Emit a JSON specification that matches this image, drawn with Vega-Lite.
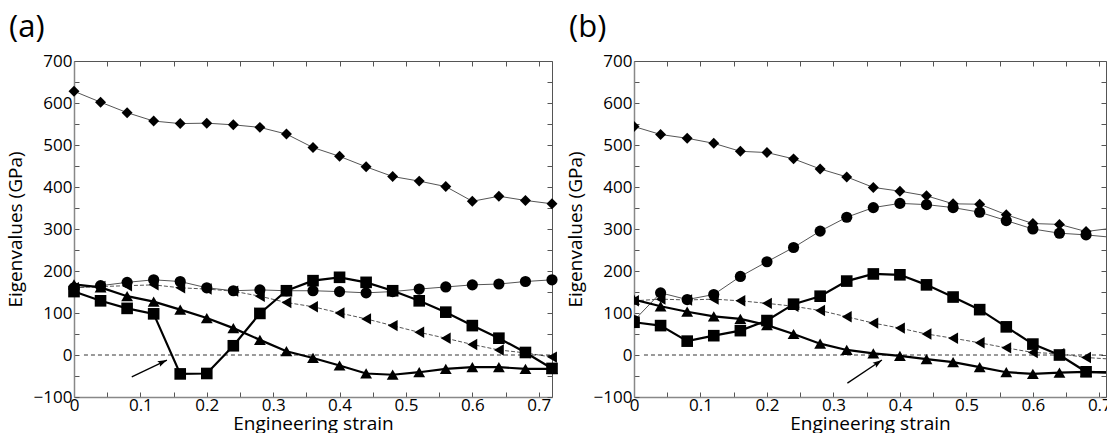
{
  "$schema": "https://vega.github.io/schema/vega-lite/v6.json",
  "background": "white",
  "padding": {"left": 6, "top": 12, "right": 0, "bottom": 0},
  "spacing": 8,
  "config": {
    "font": "Open Sans",
    "view": {"stroke": null},
    "axis": {
      "grid": false,
      "labelFont": "Open Sans",
      "labelFontSize": 17,
      "labelColor": "black",
      "titleFont": "Open Sans",
      "titleFontSize": 19,
      "titleFontWeight": "normal",
      "titleColor": "black",
      "tickColor": "#555",
      "tickSize": -5,
      "domainColor": "#888",
      "domainWidth": 1.5,
      "labelOverlap": false,
      "labelFlush": false
    },
    "title": {"font": "Open Sans", "fontSize": 31, "fontWeight": "normal", "anchor": "start", "frame": "bounds", "color": "black"}
  },
  "datasets": {
    "a": [
      {"x":0,"s":"s1","y":628},{"x":0.04,"s":"s1","y":602},{"x":0.08,"s":"s1","y":577},{"x":0.12,"s":"s1","y":557},{"x":0.16,"s":"s1","y":551},{"x":0.2,"s":"s1","y":552},{"x":0.24,"s":"s1","y":548},{"x":0.28,"s":"s1","y":542},{"x":0.32,"s":"s1","y":526},{"x":0.36,"s":"s1","y":494},{"x":0.4,"s":"s1","y":473},{"x":0.44,"s":"s1","y":448},{"x":0.48,"s":"s1","y":425},{"x":0.52,"s":"s1","y":414},{"x":0.56,"s":"s1","y":401},{"x":0.6,"s":"s1","y":366},{"x":0.64,"s":"s1","y":378},{"x":0.68,"s":"s1","y":368},{"x":0.72,"s":"s1","y":360},
      {"x":0,"s":"s2","y":160},{"x":0.04,"s":"s2","y":165},{"x":0.08,"s":"s2","y":173},{"x":0.12,"s":"s2","y":179},{"x":0.16,"s":"s2","y":175},{"x":0.2,"s":"s2","y":160},{"x":0.24,"s":"s2","y":153},{"x":0.28,"s":"s2","y":155},{"x":0.32,"s":"s2","y":153},{"x":0.36,"s":"s2","y":153},{"x":0.4,"s":"s2","y":151},{"x":0.44,"s":"s2","y":148},{"x":0.48,"s":"s2","y":151},{"x":0.52,"s":"s2","y":157},{"x":0.56,"s":"s2","y":162},{"x":0.6,"s":"s2","y":167},{"x":0.64,"s":"s2","y":169},{"x":0.68,"s":"s2","y":175},{"x":0.72,"s":"s2","y":179},
      {"x":0,"s":"s3","y":160},{"x":0.04,"s":"s3","y":163},{"x":0.08,"s":"s3","y":165},{"x":0.12,"s":"s3","y":167},{"x":0.16,"s":"s3","y":160},{"x":0.2,"s":"s3","y":157},{"x":0.24,"s":"s3","y":152},{"x":0.28,"s":"s3","y":140},{"x":0.32,"s":"s3","y":125},{"x":0.36,"s":"s3","y":115},{"x":0.4,"s":"s3","y":100},{"x":0.44,"s":"s3","y":86},{"x":0.48,"s":"s3","y":70},{"x":0.52,"s":"s3","y":54},{"x":0.56,"s":"s3","y":40},{"x":0.6,"s":"s3","y":25},{"x":0.64,"s":"s3","y":12},{"x":0.68,"s":"s3","y":5},{"x":0.72,"s":"s3","y":-5},
      {"x":0,"s":"s4","y":151},{"x":0.04,"s":"s4","y":129},{"x":0.08,"s":"s4","y":111},{"x":0.12,"s":"s4","y":98},{"x":0.16,"s":"s4","y":-45},{"x":0.2,"s":"s4","y":-44},{"x":0.24,"s":"s4","y":22},{"x":0.28,"s":"s4","y":99},{"x":0.32,"s":"s4","y":153},{"x":0.36,"s":"s4","y":177},{"x":0.4,"s":"s4","y":185},{"x":0.44,"s":"s4","y":173},{"x":0.48,"s":"s4","y":153},{"x":0.52,"s":"s4","y":129},{"x":0.56,"s":"s4","y":102},{"x":0.6,"s":"s4","y":70},{"x":0.64,"s":"s4","y":40},{"x":0.68,"s":"s4","y":6},{"x":0.72,"s":"s4","y":-32},
      {"x":0,"s":"s5","y":168},{"x":0.04,"s":"s5","y":161},{"x":0.08,"s":"s5","y":140},{"x":0.12,"s":"s5","y":127},{"x":0.16,"s":"s5","y":108},{"x":0.2,"s":"s5","y":88},{"x":0.24,"s":"s5","y":64},{"x":0.28,"s":"s5","y":36},{"x":0.32,"s":"s5","y":9},{"x":0.36,"s":"s5","y":-7},{"x":0.4,"s":"s5","y":-25},{"x":0.44,"s":"s5","y":-44},{"x":0.48,"s":"s5","y":-47},{"x":0.52,"s":"s5","y":-41},{"x":0.56,"s":"s5","y":-33},{"x":0.6,"s":"s5","y":-29},{"x":0.64,"s":"s5","y":-29},{"x":0.68,"s":"s5","y":-33},{"x":0.72,"s":"s5","y":-33}
    ],
    "b": [
      {"x":0,"s":"s1","y":544},{"x":0.04,"s":"s1","y":525},{"x":0.08,"s":"s1","y":516},{"x":0.12,"s":"s1","y":504},{"x":0.16,"s":"s1","y":485},{"x":0.2,"s":"s1","y":482},{"x":0.24,"s":"s1","y":467},{"x":0.28,"s":"s1","y":443},{"x":0.32,"s":"s1","y":424},{"x":0.36,"s":"s1","y":399},{"x":0.4,"s":"s1","y":390},{"x":0.44,"s":"s1","y":379},{"x":0.48,"s":"s1","y":360},{"x":0.52,"s":"s1","y":359},{"x":0.56,"s":"s1","y":334},{"x":0.6,"s":"s1","y":313},{"x":0.64,"s":"s1","y":311},{"x":0.68,"s":"s1","y":294},{"x":0.72,"s":"s1","y":302},
      {"x":0,"s":"s2","y":82},{"x":0.04,"s":"s2","y":148},{"x":0.08,"s":"s2","y":132},{"x":0.12,"s":"s2","y":144},{"x":0.16,"s":"s2","y":187},{"x":0.2,"s":"s2","y":222},{"x":0.24,"s":"s2","y":256},{"x":0.28,"s":"s2","y":295},{"x":0.32,"s":"s2","y":328},{"x":0.36,"s":"s2","y":351},{"x":0.4,"s":"s2","y":361},{"x":0.44,"s":"s2","y":358},{"x":0.48,"s":"s2","y":351},{"x":0.52,"s":"s2","y":340},{"x":0.56,"s":"s2","y":320},{"x":0.6,"s":"s2","y":300},{"x":0.64,"s":"s2","y":290},{"x":0.68,"s":"s2","y":286},{"x":0.72,"s":"s2","y":280},
      {"x":0,"s":"s3","y":129},{"x":0.04,"s":"s3","y":133},{"x":0.08,"s":"s3","y":131},{"x":0.12,"s":"s3","y":133},{"x":0.16,"s":"s3","y":129},{"x":0.2,"s":"s3","y":123},{"x":0.24,"s":"s3","y":116},{"x":0.28,"s":"s3","y":106},{"x":0.32,"s":"s3","y":91},{"x":0.36,"s":"s3","y":76},{"x":0.4,"s":"s3","y":64},{"x":0.44,"s":"s3","y":50},{"x":0.48,"s":"s3","y":40},{"x":0.52,"s":"s3","y":29},{"x":0.56,"s":"s3","y":17},{"x":0.6,"s":"s3","y":6},{"x":0.64,"s":"s3","y":3},{"x":0.68,"s":"s3","y":-6},{"x":0.72,"s":"s3","y":-10},
      {"x":0,"s":"s4","y":78},{"x":0.04,"s":"s4","y":70},{"x":0.08,"s":"s4","y":33},{"x":0.12,"s":"s4","y":46},{"x":0.16,"s":"s4","y":58},{"x":0.2,"s":"s4","y":82},{"x":0.24,"s":"s4","y":121},{"x":0.28,"s":"s4","y":140},{"x":0.32,"s":"s4","y":176},{"x":0.36,"s":"s4","y":193},{"x":0.4,"s":"s4","y":191},{"x":0.44,"s":"s4","y":167},{"x":0.48,"s":"s4","y":138},{"x":0.52,"s":"s4","y":108},{"x":0.56,"s":"s4","y":67},{"x":0.6,"s":"s4","y":26},{"x":0.64,"s":"s4","y":0},{"x":0.68,"s":"s4","y":-40},{"x":0.72,"s":"s4","y":-42},
      {"x":0,"s":"s5","y":132},{"x":0.04,"s":"s5","y":116},{"x":0.08,"s":"s5","y":103},{"x":0.12,"s":"s5","y":92},{"x":0.16,"s":"s5","y":86},{"x":0.2,"s":"s5","y":71},{"x":0.24,"s":"s5","y":50},{"x":0.28,"s":"s5","y":27},{"x":0.32,"s":"s5","y":12},{"x":0.36,"s":"s5","y":4},{"x":0.4,"s":"s5","y":-2},{"x":0.44,"s":"s5","y":-10},{"x":0.48,"s":"s5","y":-17},{"x":0.52,"s":"s5","y":-29},{"x":0.56,"s":"s5","y":-41},{"x":0.6,"s":"s5","y":-45},{"x":0.64,"s":"s5","y":-42},{"x":0.68,"s":"s5","y":-40},{"x":0.72,"s":"s5","y":-42}
    ],
    "zeroA": [{"x": 0.015, "x2": 0.72, "y": 0}],
    "zeroB": [{"x": 0.015, "x2": 0.71, "y": 0}],
    "arrowA": [{"x": 0.087, "y": -52, "x2": 0.14, "y2": -12}],
    "arrowB": [{"x": 0.321, "y": -67, "x2": 0.373, "y2": -12}]
  },
  "hconcat": [
    {
      "title": {"text": "(a)", "dx": 3, "offset": 8},
      "width": 478,
      "height": 336,
      "data": {"name": "a"},
      "resolve": {"axis": {"x": "independent", "y": "independent"}},
      "layer": [
        {
          "mark": {"type": "line", "color": "#555", "strokeWidth": 1},
          "transform": [{"filter": "datum.s == 's1' || datum.s == 's2'"}],
          "encoding": {
            "x": {"field": "x", "type": "quantitative", "scale": {"domain": [0, 0.72], "nice": false, "zero": false},
              "axis": {"orient": "bottom", "title": "Engineering strain", "values": [0,0.05,0.1,0.15,0.2,0.25,0.3,0.35,0.4,0.45,0.5,0.55,0.6,0.65,0.7], "format": "~g", "labelExpr": "round(datum.value*20)%2==0 ? datum.label : ''", "titlePadding": 1, "labelPadding": 5}},
            "y": {"field": "y", "type": "quantitative", "scale": {"domain": [-100, 700], "nice": false, "zero": false},
              "axis": {"orient": "left", "title": "Eigenvalues (GPa)", "values": [-100,-50,0,50,100,150,200,250,300,350,400,450,500,550,600,650,700], "labelExpr": "round(datum.value/50)%2==0 ? datum.label : ''", "labelPadding": 7, "titlePadding": 8}},
            "detail": {"field": "s"}
          }
        },
        {
          "mark": {"type": "line", "color": "#555", "strokeWidth": 1, "strokeDash": [4, 2]},
          "transform": [{"filter": "datum.s == 's3'"}],
          "encoding": {
            "x": {"field": "x", "type": "quantitative", "axis": {"orient": "top", "labels": false, "title": null, "values": [0,0.05,0.1,0.15,0.2,0.25,0.3,0.35,0.4,0.45,0.5,0.55,0.6,0.65,0.7], "domainColor": "#555", "domainWidth": 1}},
            "y": {"field": "y", "type": "quantitative", "axis": {"orient": "right", "labels": false, "title": null, "values": [-100,-50,0,50,100,150,200,250,300,350,400,450,500,550,600,650,700], "domainColor": "#555", "domainWidth": 1}}
          }
        },
        {
          "mark": {"type": "line", "color": "black", "strokeWidth": 2.2},
          "transform": [{"filter": "datum.s == 's4' || datum.s == 's5'"}],
          "encoding": {
            "x": {"field": "x", "type": "quantitative", "axis": null},
            "y": {"field": "y", "type": "quantitative", "axis": null},
            "detail": {"field": "s"}
          }
        },
        {
          "data": {"name": "zeroA"},
          "mark": {"type": "rule", "color": "black", "strokeWidth": 0.8, "strokeDash": [4, 3]},
          "encoding": {
            "x": {"field": "x", "type": "quantitative", "axis": null},
            "x2": {"field": "x2"},
            "y": {"field": "y", "type": "quantitative", "axis": null}
          }
        },
        {
          "mark": {"type": "point", "filled": true, "color": "black", "opacity": 1},
          "encoding": {
            "x": {"field": "x", "type": "quantitative", "axis": null},
            "y": {"field": "y", "type": "quantitative", "axis": null},
            "shape": {"field": "s", "type": "nominal", "legend": null, "scale": {"domain": ["s1","s2","s3","s4","s5"], "range": ["diamond","circle","triangle-left","square","triangle-up"]}},
            "size": {"field": "s", "type": "nominal", "legend": null, "scale": {"domain": ["s1","s2","s3","s4","s5"], "range": [120, 140, 90, 95, 95]}}
          }
        },
        {
          "data": {"name": "arrowA"},
          "mark": {"type": "rule", "color": "black", "strokeWidth": 1.3},
          "encoding": {
            "x": {"field": "x", "type": "quantitative", "axis": null},
            "y": {"field": "y", "type": "quantitative", "axis": null},
            "x2": {"field": "x2"},
            "y2": {"field": "y2"}
          }
        },
        {
          "data": {"name": "arrowA"},
          "mark": {"type": "point", "filled": true, "color": "black", "opacity": 1, "shape": "M0,0L-0.38,1.15L0,0.95L0.38,1.15Z", "size": 260, "angle": 64.5},
          "encoding": {
            "x": {"field": "x2", "type": "quantitative", "axis": null},
            "y": {"field": "y2", "type": "quantitative", "axis": null}
          }
        }
      ]
    },
    {
      "title": {"text": "(b)", "dx": 3, "offset": 8},
      "width": 472,
      "height": 336,
      "data": {"name": "b"},
      "resolve": {"axis": {"x": "independent", "y": "independent"}},
      "layer": [
        {
          "mark": {"type": "line", "color": "#555", "strokeWidth": 1, "clip": true},
          "transform": [{"filter": "datum.s == 's1' || datum.s == 's2'"}],
          "encoding": {
            "x": {"field": "x", "type": "quantitative", "scale": {"domain": [0, 0.71], "nice": false, "zero": false},
              "axis": {"orient": "bottom", "title": "Engineering strain", "values": [0,0.05,0.1,0.15,0.2,0.25,0.3,0.35,0.4,0.45,0.5,0.55,0.6,0.65,0.7], "format": "~g", "labelExpr": "round(datum.value*20)%2==0 ? datum.label : ''", "titlePadding": 1, "labelPadding": 5}},
            "y": {"field": "y", "type": "quantitative", "scale": {"domain": [-100, 700], "nice": false, "zero": false},
              "axis": {"orient": "left", "title": "Eigenvalues (GPa)", "values": [-100,-50,0,50,100,150,200,250,300,350,400,450,500,550,600,650,700], "labelExpr": "round(datum.value/50)%2==0 ? datum.label : ''", "labelPadding": 7, "titlePadding": 8}},
            "detail": {"field": "s"}
          }
        },
        {
          "mark": {"type": "line", "color": "#555", "strokeWidth": 1, "strokeDash": [4, 2], "clip": true},
          "transform": [{"filter": "datum.s == 's3'"}],
          "encoding": {
            "x": {"field": "x", "type": "quantitative", "axis": {"orient": "top", "labels": false, "title": null, "values": [0,0.05,0.1,0.15,0.2,0.25,0.3,0.35,0.4,0.45,0.5,0.55,0.6,0.65,0.7], "domainColor": "#555", "domainWidth": 1}},
            "y": {"field": "y", "type": "quantitative", "axis": {"orient": "right", "labels": false, "title": null, "values": [-100,-50,0,50,100,150,200,250,300,350,400,450,500,550,600,650,700], "domainColor": "#555", "domainWidth": 1}}
          }
        },
        {
          "mark": {"type": "line", "color": "black", "strokeWidth": 2.2, "clip": true},
          "transform": [{"filter": "datum.s == 's4' || datum.s == 's5'"}],
          "encoding": {
            "x": {"field": "x", "type": "quantitative", "axis": null},
            "y": {"field": "y", "type": "quantitative", "axis": null},
            "detail": {"field": "s"}
          }
        },
        {
          "data": {"name": "zeroB"},
          "mark": {"type": "rule", "color": "black", "strokeWidth": 0.8, "strokeDash": [4, 3]},
          "encoding": {
            "x": {"field": "x", "type": "quantitative", "axis": null},
            "x2": {"field": "x2"},
            "y": {"field": "y", "type": "quantitative", "axis": null}
          }
        },
        {
          "mark": {"type": "point", "filled": true, "color": "black", "opacity": 1, "clip": true},
          "encoding": {
            "x": {"field": "x", "type": "quantitative", "axis": null},
            "y": {"field": "y", "type": "quantitative", "axis": null},
            "shape": {"field": "s", "type": "nominal", "legend": null, "scale": {"domain": ["s1","s2","s3","s4","s5"], "range": ["diamond","circle","triangle-left","square","triangle-up"]}},
            "size": {"field": "s", "type": "nominal", "legend": null, "scale": {"domain": ["s1","s2","s3","s4","s5"], "range": [120, 140, 90, 95, 95]}}
          }
        },
        {
          "data": {"name": "arrowB"},
          "mark": {"type": "rule", "color": "black", "strokeWidth": 1.3},
          "encoding": {
            "x": {"field": "x", "type": "quantitative", "axis": null},
            "y": {"field": "y", "type": "quantitative", "axis": null},
            "x2": {"field": "x2"},
            "y2": {"field": "y2"}
          }
        },
        {
          "data": {"name": "arrowB"},
          "mark": {"type": "point", "filled": true, "color": "black", "opacity": 1, "shape": "M0,0L-0.38,1.15L0,0.95L0.38,1.15Z", "size": 260, "angle": 56},
          "encoding": {
            "x": {"field": "x2", "type": "quantitative", "axis": null},
            "y": {"field": "y2", "type": "quantitative", "axis": null}
          }
        }
      ]
    }
  ]
}
